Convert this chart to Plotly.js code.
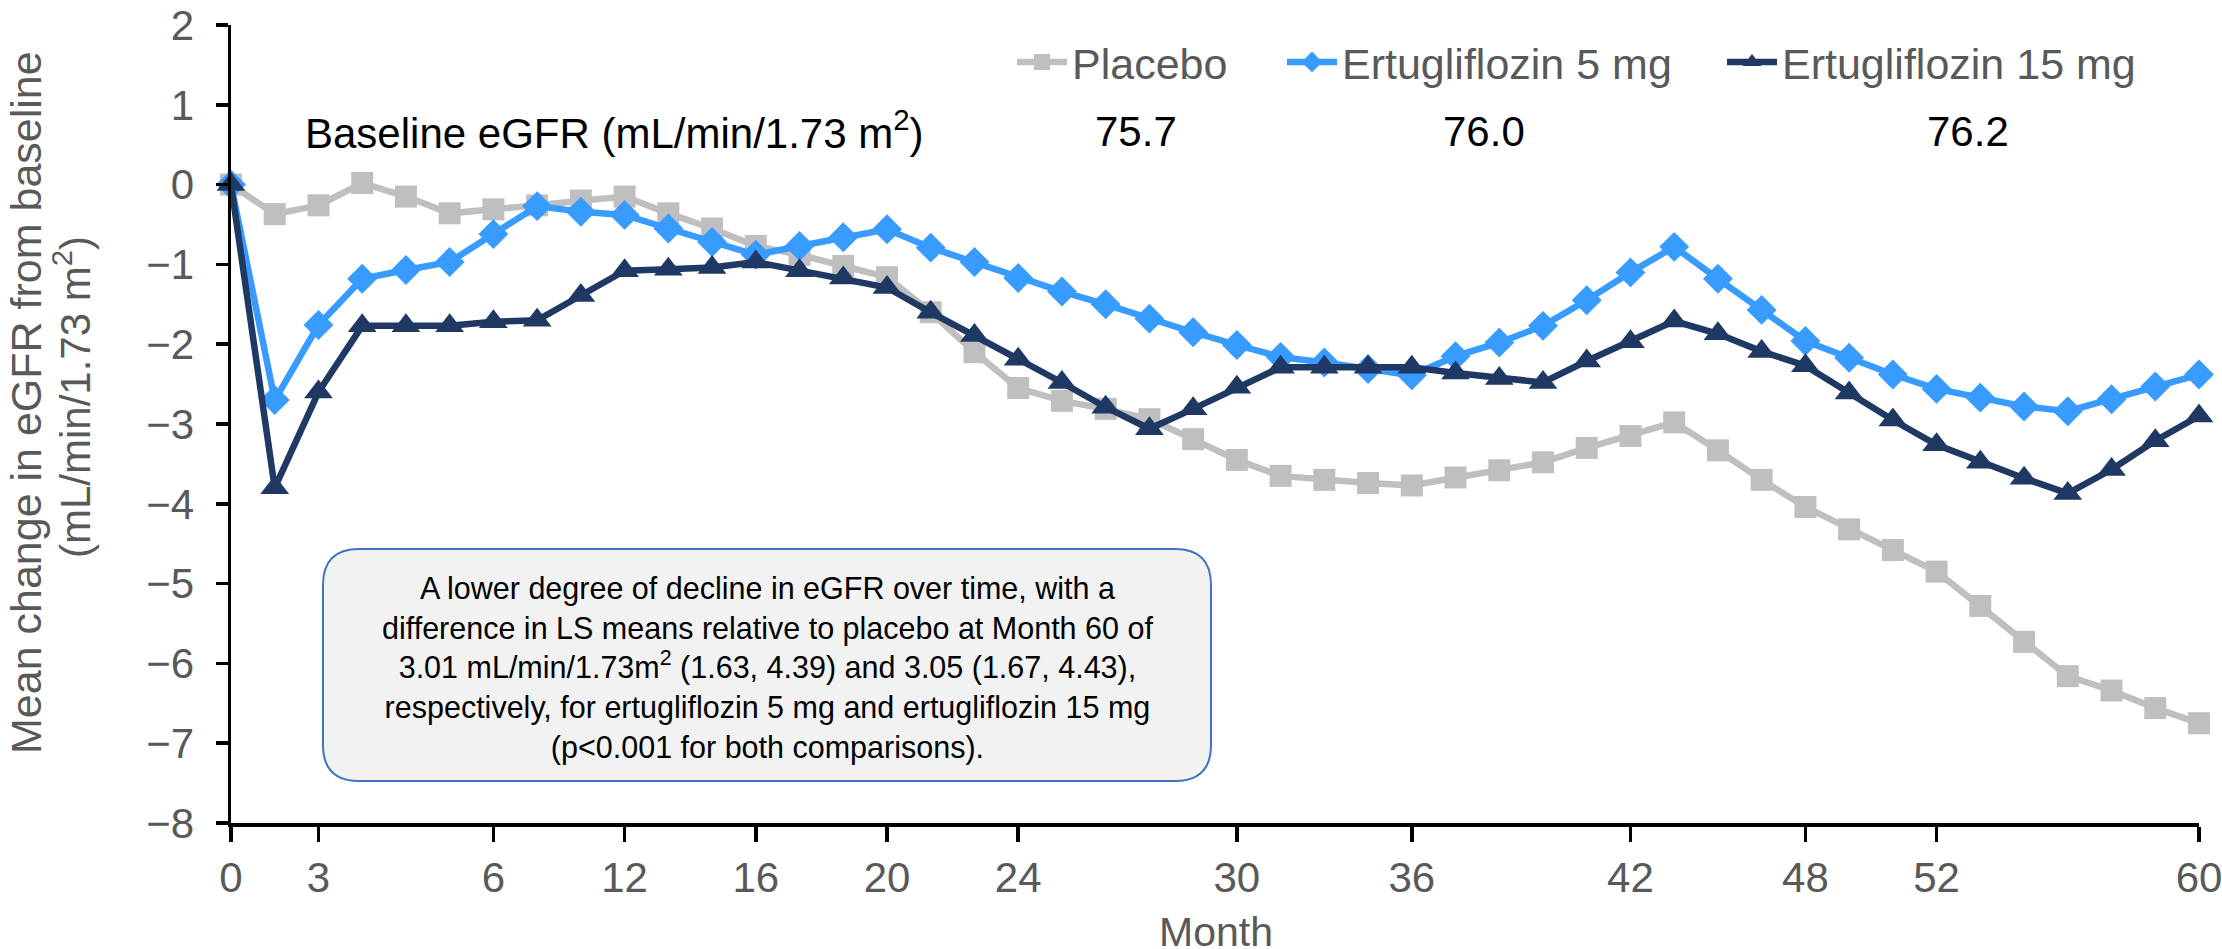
<!DOCTYPE html>
<html>
<head>
<meta charset="utf-8">
<script src="https://cdn.plot.ly/plotly-3.0.1.min.js"></script>
<style>html,body{margin:0;padding:0;background:#fff;}#chart{width:2222px;height:949px;}</style>
</head>
<body>
<div id="chart"></div>
<script>
// ---- data ----
const visits = [0,1,2,3,4,5,6,7,8,9,10,11,12,13,14,15,16,17,18,19,20,21,22,23,24,25,26,27,28,29,30,31,32,33,34,35,36,37,38,39,40,41,42,43,44,45];
const tickVisits = [0,2,6,9,12,15,18,23,27,32,36,39,45];
const tickMonths = ['0','3','6','12','16','20','24','30','36','42','48','52','60'];
const seriesNames = ['Placebo','Ertugliflozin 5 mg','Ertugliflozin 15 mg'];
const placebo = [0,-0.37,-0.26,0.02,-0.15,-0.36,-0.31,-0.26,-0.2,-0.15,-0.36,-0.55,-0.77,-0.88,-1.02,-1.16,-1.6,-2.1,-2.55,-2.71,-2.81,-2.94,-3.19,-3.45,-3.65,-3.7,-3.74,-3.77,-3.67,-3.58,-3.48,-3.3,-3.15,-2.98,-3.33,-3.7,-4.04,-4.32,-4.58,-4.85,-5.28,-5.73,-6.16,-6.34,-6.56,-6.75];
const ertu5 = [0,-2.7,-1.76,-1.18,-1.07,-0.97,-0.62,-0.27,-0.34,-0.38,-0.55,-0.72,-0.88,-0.77,-0.66,-0.56,-0.79,-0.97,-1.17,-1.34,-1.5,-1.68,-1.85,-2.01,-2.16,-2.23,-2.31,-2.39,-2.15,-1.98,-1.77,-1.45,-1.1,-0.78,-1.18,-1.57,-1.96,-2.17,-2.38,-2.56,-2.67,-2.78,-2.84,-2.69,-2.53,-2.38];
const ertu15 = [0,-3.8,-2.6,-1.77,-1.77,-1.77,-1.72,-1.7,-1.39,-1.08,-1.06,-1.04,-0.97,-1.08,-1.17,-1.29,-1.6,-1.89,-2.19,-2.48,-2.79,-3.06,-2.81,-2.54,-2.29,-2.29,-2.29,-2.29,-2.36,-2.43,-2.48,-2.21,-1.97,-1.71,-1.87,-2.09,-2.27,-2.61,-2.95,-3.26,-3.48,-3.68,-3.87,-3.57,-3.21,-2.9];
const baselineLabel = 'Baseline eGFR (mL/min/1.73 m<sup>2</sup>)';
const baselineValues = ['75.7','76.0','76.2'];
const yTitleLines = ['Mean change in eGFR from baseline','(mL/min/1.73 m<sup>2</sup>)'];
const xTitle = 'Month';
const boxText = 'A lower degree of decline in eGFR over time, with a<br>difference in LS means relative to placebo at Month 60 of<br>3.01 mL/min/1.73m<sup>2</sup> (1.63, 4.39) and 3.05 (1.67, 4.43),<br>respectively, for ertugliflozin 5 mg and ertugliflozin 15 mg<br>(p&lt;0.001 for both comparisons).';

// ---- layout helpers ----
const M = {l:231, r:23, t:25, b:126};
const PW = 2222 - M.l - M.r, PH = 949 - M.t - M.b;
const px = v => (v - M.l) / PW;
const py = v => (949 - M.b - v) / PH;
const FONT = 'Liberation Sans, Arial, sans-serif';
const GRAY = '#595959';

const colors = ['#bfbfbf','#379bff','#203864'];
const symbols = ['square','diamond','triangle-up'];
const sizes = [22,23,25];
const data = [placebo, ertu5, ertu15].map((ys,i) => ({
  type:'scatter', mode:'lines+markers', x:visits, y:ys, name:seriesNames[i],
  line:{color:colors[i], width:6.5},
  marker:{symbol:symbols[i], size:sizes[i], color:colors[i]},
  cliponaxis:false, showlegend:true,
  legend: i===0 ? 'legend' : 'legend'+(i+1)
}));

const ITEMW = 50;
const legendTextStart = [1072,1342,1782];
function leg(i){
  return {x:px(legendTextStart[i]-ITEMW-10), y:py(62), xanchor:'left', yanchor:'middle',
    orientation:'h', bgcolor:'rgba(0,0,0,0)', borderwidth:0, itemwidth:ITEMW,
    font:{family:FONT, size:43, color:GRAY}};
}

// rounded box
const bx0=323, bx1=1211, by0=549, by1=781, rr=36;
const P = (x,y) => px(x)+','+py(y);
const boxPath = 'M'+P(bx0+rr,by0)+' L'+P(bx1-rr,by0)+' Q'+P(bx1,by0)+' '+P(bx1,by0+rr)+
  ' L'+P(bx1,by1-rr)+' Q'+P(bx1,by1)+' '+P(bx1-rr,by1)+' L'+P(bx0+rr,by1)+
  ' Q'+P(bx0,by1)+' '+P(bx0,by1-rr)+' L'+P(bx0,by0+rr)+' Q'+P(bx0,by0)+' '+P(bx0+rr,by0)+' Z';

const baseCenters = [1136,1484,1968];
const yTitlePos = [[26,403,43],[72,397,42]];
const annotations = [
  {xref:'paper', yref:'paper', x:px(303), y:py(130), xanchor:'left', yanchor:'middle', showarrow:false,
   text:baselineLabel, font:{family:FONT, size:42, color:'#000'}},
  ...baselineValues.map((t,i)=>({xref:'paper', yref:'paper', x:px(baseCenters[i]), y:py(131), xanchor:'center', yanchor:'middle',
   showarrow:false, text:t, font:{family:FONT, size:42, color:'#000'}})),
  {xref:'paper', yref:'paper', x:px(767), y:py(668), xanchor:'center', yanchor:'middle', showarrow:false, align:'center',
   text:boxText, font:{family:FONT, size:30.5, color:'#000'}},
  ...yTitleLines.map((t,i)=>({xref:'paper', yref:'paper', x:px(yTitlePos[i][0]), y:py(yTitlePos[i][1]),
   xanchor:'center', yanchor:'middle', showarrow:false, textangle:-90,
   text:t, font:{family:FONT, size:yTitlePos[i][2], color:GRAY}})),
  {xref:'paper', yref:'paper', x:px(1216), y:py(932), xanchor:'center', yanchor:'middle', showarrow:false,
   text:xTitle, font:{family:FONT, size:41, color:GRAY}}
];

const layout = {
  width:2222, height:949, margin:M, paper_bgcolor:'#fff', plot_bgcolor:'#fff',
  font:{family:FONT, color:GRAY}, showlegend:true,
  xaxis:{range:[0,45], tickmode:'array', tickvals:tickVisits, ticktext:tickMonths,
    showgrid:false, zeroline:false, showline:true, linecolor:'#000', linewidth:3.5,
    ticks:'outside', ticklen:15, tickwidth:3.5, tickcolor:'#000', ticklabeloverflow:'allow',
    tickfont:{family:FONT, size:42, color:GRAY}},
  yaxis:{range:[-8,2], dtick:1, tick0:0, showgrid:false, zeroline:false, showline:true,
    linecolor:'#000', linewidth:3.5, ticks:'outside', ticklen:12, tickwidth:3.5, tickcolor:'#000',
    ticklabelstandoff:13, ticklabeloverflow:'allow', tickfont:{family:FONT, size:42, color:GRAY}},
  legend:leg(0), legend2:leg(1), legend3:leg(2),
  shapes:[{type:'path', xref:'paper', yref:'paper', path:boxPath, fillcolor:'#f2f2f2',
    line:{color:'#4472c4', width:2}, layer:'above'}],
  annotations:annotations
};
Plotly.newPlot('chart', data, layout, {displayModeBar:false, staticPlot:true});
</script>
</body>
</html>
